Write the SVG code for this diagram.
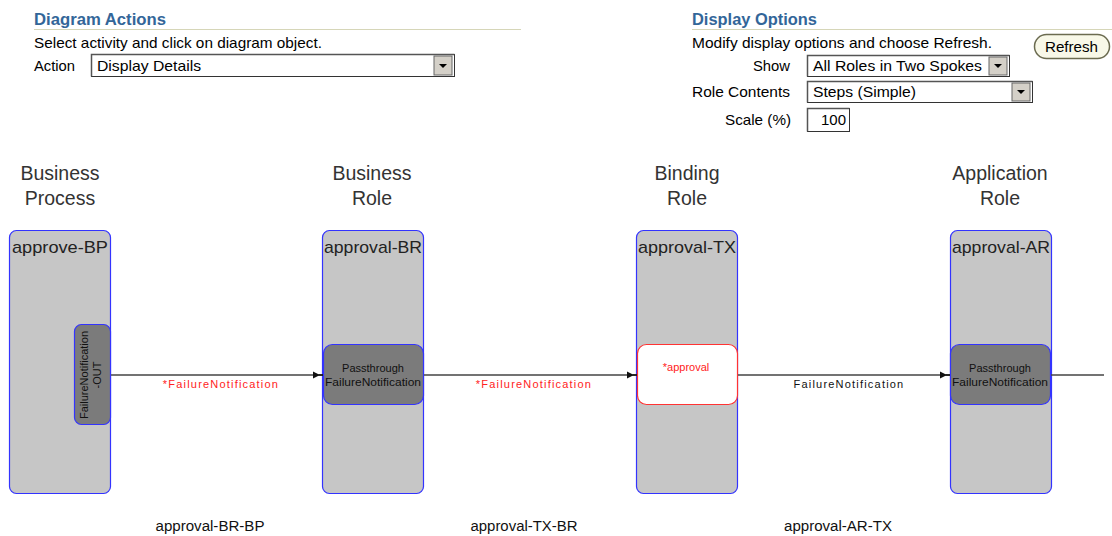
<svg xmlns="http://www.w3.org/2000/svg" width="1112" height="536" viewBox="0 0 1112 536">
<style>
.hdr{font-family:"Liberation Sans",Arial,sans-serif;font-size:16.5px;font-weight:bold;fill:#336699}
.txt{font-family:"Liberation Sans",Arial,sans-serif;font-size:15px;fill:#000}
.col{font-family:"Liberation Sans",Arial,sans-serif;font-size:19.5px;fill:#333;text-anchor:middle}
.lane{fill:#c6c6c6;stroke:#3333ff;stroke-width:1.2}
.lname{font-family:"Liberation Sans",Arial,sans-serif;font-size:17px;fill:#222;text-anchor:middle}
.step{fill:#7b7b7b;stroke:#3333ff;stroke-width:1.2}
.stxt{font-family:"Liberation Sans",Arial,sans-serif;font-size:11px;fill:#111;text-anchor:middle}
.conn{stroke:#444;stroke-width:1.6;fill:none}
.clbl{font-family:"Liberation Sans",Arial,sans-serif;font-size:11px;letter-spacing:1.2px;text-anchor:middle}
.blbl{font-family:"Liberation Sans",Arial,sans-serif;font-size:14px;fill:#111;text-anchor:middle}
.sel{fill:#fff;stroke:#333;stroke-width:1}
.btn{fill:#d4d0c8;stroke:#666;stroke-width:1}
</style>
<defs>
<marker id="arr" markerWidth="10" markerHeight="8" refX="10" refY="4" orient="auto" markerUnits="userSpaceOnUse">
<path d="M0,0.5 L7,4 L0,7.5 z M6,3.3 L10,3.3 L10,4.7 L6,4.7 z" fill="#111"/>
</marker>
<path id="tri" d="M-4,-2 L4,-2 L0,2 z" fill="#000"/>
</defs>
<rect width="1112" height="536" fill="#fff"/>

<g id="diagram-actions">
<text class="hdr" x="34" y="25" textLength="132" lengthAdjust="spacingAndGlyphs">Diagram Actions</text>
<line x1="34" y1="29.5" x2="521" y2="29.5" stroke="#d6d6b8" stroke-width="1"/>
<text class="txt" x="34" y="48" textLength="288" lengthAdjust="spacingAndGlyphs">Select activity and click on diagram object.</text>
<text class="txt" x="34" y="71" textLength="41" lengthAdjust="spacingAndGlyphs">Action</text>
<rect class="sel" x="91.5" y="54.5" width="363" height="22"/>
<path d="M91.5,76.5 V54.5 H454.5" stroke="#555" stroke-width="1.5" fill="none"/>
<rect class="btn" x="434" y="56" width="18" height="19"/>
<use href="#tri" x="443" y="66"/>
<text class="txt" x="97" y="71" textLength="104" lengthAdjust="spacingAndGlyphs">Display Details</text>
</g>

<g id="display-options">
<text class="hdr" x="692" y="25" textLength="125" lengthAdjust="spacingAndGlyphs">Display Options</text>
<line x1="692" y1="29.5" x2="1112" y2="29.5" stroke="#d6d6b8" stroke-width="1"/>
<text class="txt" x="692" y="48" textLength="300" lengthAdjust="spacingAndGlyphs">Modify display options and choose Refresh.</text>
<rect x="1034.5" y="34.5" width="75" height="24" rx="12" fill="#f8f8e8" stroke="#6b6b50" stroke-width="1.5"/>
<text class="txt" x="1045" y="52" textLength="53" lengthAdjust="spacingAndGlyphs">Refresh</text>
<text class="txt" x="753" y="71" textLength="37" lengthAdjust="spacingAndGlyphs">Show</text>
<rect class="sel" x="807.5" y="55.5" width="202" height="21"/>
<path d="M807.5,76.5 V55.5 H1009.5" stroke="#555" stroke-width="1.5" fill="none"/>
<rect class="btn" x="989" y="57" width="18" height="18"/>
<use href="#tri" x="998" y="66"/>
<text class="txt" x="813" y="71" textLength="169" lengthAdjust="spacingAndGlyphs">All Roles in Two Spokes</text>
<text class="txt" x="692" y="97" textLength="98" lengthAdjust="spacingAndGlyphs">Role Contents</text>
<rect class="sel" x="807.5" y="81.5" width="225" height="21"/>
<path d="M807.5,102.5 V81.5 H1032.5" stroke="#555" stroke-width="1.5" fill="none"/>
<rect class="btn" x="1012" y="83" width="18" height="18"/>
<use href="#tri" x="1021" y="92"/>
<text class="txt" x="813" y="97" textLength="103" lengthAdjust="spacingAndGlyphs">Steps (Simple)</text>
<text class="txt" x="725" y="125" textLength="66" lengthAdjust="spacingAndGlyphs">Scale (%)</text>
<rect class="sel" x="807.5" y="108.5" width="42" height="23"/>
<path d="M807.5,131.5 V108.5 H849.5" stroke="#555" stroke-width="1.5" fill="none"/>
<text class="txt" x="821" y="125" textLength="25" lengthAdjust="spacingAndGlyphs">100</text>
</g>

<g id="col-business-process">
<text class="col" x="60" y="180">Business</text>
<text class="col" x="60" y="205">Process</text>
<rect class="lane" x="9.5" y="230.5" width="101" height="263" rx="7"/>
<text class="lname" x="60" y="253" textLength="96" lengthAdjust="spacingAndGlyphs">approve-BP</text>
<rect class="step" x="74.5" y="324.5" width="36" height="100" rx="7"/>
<text class="stxt" transform="translate(88,375) rotate(-90)">FailureNotification</text>
<text class="stxt" transform="translate(101,375) rotate(-90)">-OUT</text>
</g>

<g id="col-business-role">
<text class="col" x="372" y="180">Business</text>
<text class="col" x="372" y="205">Role</text>
<rect class="lane" x="322.5" y="230.5" width="101" height="263" rx="7"/>
<text class="lname" x="373" y="253" textLength="98" lengthAdjust="spacingAndGlyphs">approval-BR</text>
<rect class="step" x="323.5" y="344.5" width="100" height="60" rx="9"/>
<text class="stxt" x="373" y="372">Passthrough</text>
<text class="stxt" x="373" y="386" textLength="96" lengthAdjust="spacingAndGlyphs">FailureNotification</text>
</g>

<g id="col-binding-role">
<text class="col" x="687" y="180">Binding</text>
<text class="col" x="687" y="205">Role</text>
<rect class="lane" x="636.5" y="230.5" width="101" height="263" rx="7"/>
<text class="lname" x="687" y="253" textLength="98" lengthAdjust="spacingAndGlyphs">approval-TX</text>
<rect x="637.5" y="344.5" width="100" height="60" rx="9" fill="#fff" stroke="#ff3333" stroke-width="1.2"/>
<text class="stxt" x="686" y="371" style="fill:#ff2222">*approval</text>
</g>

<g id="col-application-role">
<text class="col" x="1000" y="180">Application</text>
<text class="col" x="1000" y="205">Role</text>
<rect class="lane" x="950.5" y="230.5" width="101" height="263" rx="7"/>
<text class="lname" x="1001" y="253" textLength="98" lengthAdjust="spacingAndGlyphs">approval-AR</text>
<rect class="step" x="950.5" y="344.5" width="100" height="60" rx="9"/>
<text class="stxt" x="1000" y="372">Passthrough</text>
<text class="stxt" x="1000" y="386" textLength="96" lengthAdjust="spacingAndGlyphs">FailureNotification</text>
</g>

<g id="connectors">
<line class="conn" x1="111" y1="375" x2="323" y2="375" marker-end="url(#arr)"/>
<text class="clbl" x="221" y="388" fill="#ff2222">*FailureNotification</text>
<line class="conn" x1="424" y1="375" x2="637" y2="375" marker-end="url(#arr)"/>
<text class="clbl" x="534" y="388" fill="#ff2222">*FailureNotification</text>
<line class="conn" x1="738" y1="375" x2="950" y2="375" marker-end="url(#arr)"/>
<text class="clbl" x="849" y="388" fill="#111">FailureNotification</text>
<line class="conn" x1="1051" y1="375" x2="1104" y2="375"/>
<text class="blbl" x="210" y="531" textLength="109" lengthAdjust="spacingAndGlyphs">approval-BR-BP</text>
<text class="blbl" x="524" y="531" textLength="107" lengthAdjust="spacingAndGlyphs">approval-TX-BR</text>
<text class="blbl" x="838" y="531" textLength="108" lengthAdjust="spacingAndGlyphs">approval-AR-TX</text>
</g>
</svg>
